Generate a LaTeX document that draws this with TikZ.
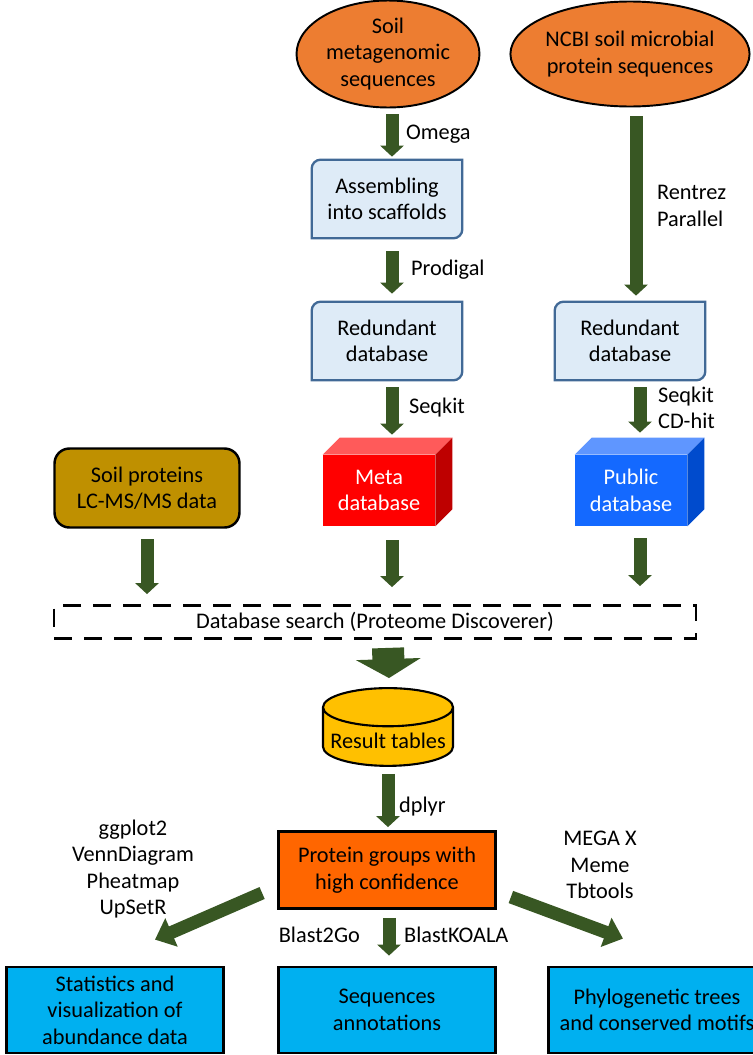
\documentclass[tikz,border=0pt]{standalone}
\usepackage{fontspec}
\setmainfont{Carlito}
\usepackage{tikz}
\usetikzlibrary{shapes.geometric, arrows.meta, positioning, calc}
\definecolor{srcorange}{RGB}{237,125,49}
\definecolor{stepfill}{RGB}{222,235,247}
\definecolor{stepline}{RGB}{65,105,150}
\definecolor{arrgreen}{RGB}{56,87,35}
\definecolor{metared}{RGB}{255,0,0}
\definecolor{metatop}{RGB}{255,90,90}
\definecolor{metaside}{RGB}{190,0,0}
\definecolor{pubblue}{RGB}{20,105,255}
\definecolor{pubtop}{RGB}{95,150,255}
\definecolor{pubside}{RGB}{0,75,205}
\definecolor{msgold}{RGB}{191,144,0}
\definecolor{resgold}{RGB}{255,192,0}
\definecolor{protorange}{RGB}{255,102,0}
\definecolor{outcyan}{RGB}{0,176,240}
\tikzset{
  txt/.style={font=\fontsize{12.7pt}{15pt}\selectfont, align=center},
  source/.style={ellipse, draw=black, fill=srcorange, line width=1.1pt,
    txt, inner sep=0pt},
  stepbox/.style={rectangle, txt, minimum width=3.0cm, minimum height=1.56cm},
  stepedge/.style={draw=stepline, fill=stepfill, line width=1.3pt},
  cubefront/.style={rectangle, txt, text=white, fill=#1,
    minimum width=2.24cm, minimum height=1.42cm},
  msbox/.style={rectangle, draw=black, fill=msgold, txt, line width=1.4pt,
    rounded corners=0.3cm, minimum width=3.7cm, minimum height=1.58cm},
  searchbox/.style={rectangle, draw=black, line width=1.6pt,
    dash pattern=on 0.36cm off 0.24cm, txt,
    minimum width=12.84cm, minimum height=0.66cm},
  restab/.style={cylinder, shape border rotate=90, aspect=0.3, draw=black,
    fill=resgold, line width=1.2pt, txt, minimum width=2.6cm, minimum height=1.54cm},
  protbox/.style={rectangle, draw=black, fill=protorange, line width=1.6pt,
    txt, minimum width=4.34cm, minimum height=1.54cm},
  outbox/.style={rectangle, draw=black, fill=outcyan, line width=1.6pt,
    txt, minimum width=4.34cm, minimum height=1.72cm},
  tool/.style={txt, inner sep=1pt},
  garrow/.style={arrgreen, line width=0.26cm,
    -{Triangle[width=0.46cm, length=0.22cm]}},
  bigarrow/.style={arrgreen, line width=0.64cm,
    -{Triangle[width=1.28cm, length=0.38cm]}},
  diagarrow/.style={arrgreen, line width=0.26cm,
    -{Triangle[width=0.6cm, length=0.36cm]}}
}
% light blue step box with two round corners
\newcommand{\stepshape}[1]{%
  \draw[stepedge] (#1.south west) -- ([shift={(0,9)}]#1.north west)
    arc[start angle=180, end angle=90, radius=0.18cm] -- (#1.north east)
    -- ([shift={(0,-9)}]#1.south east)
    arc[start angle=0, end angle=-90, radius=0.18cm] -- cycle;}
% block with a top and a side face
\newcommand{\cubeshape}[3]{%
  \fill[#2] (#1.north west) -- ([shift={(17,-17)}]#1.north west)
    -- ([shift={(17,-17)}]#1.north east) -- (#1.north east) -- cycle;
  \fill[#3] (#1.north east) -- ([shift={(17,-17)}]#1.north east)
    -- ([shift={(17,-17)}]#1.south east) -- (#1.south east) -- cycle;}

\begin{document}
\begin{tikzpicture}[x=0.02cm, y=-0.02cm]
  \useasboundingbox (0,0) rectangle (753,1055);
  \clip (0,0) rectangle (753,1055);

  \node[source, minimum width=3.66cm, minimum height=2.14cm] (meta) at (388,54)
    {Soil\\metagenomic\\sequences};
  \node[source, minimum width=4.68cm, minimum height=2.1cm] (ncbi) at (630,54)
    {NCBI soil microbial\\protein sequences};

  \node[stepbox] (asm) at (387,199) {};
  \stepshape{asm}
  \node[txt] at (asm) {Assembling\\into scaffolds};
  \node[stepbox] (red1) at (387,341) {};
  \stepshape{red1}
  \node[txt] at (red1) {Redundant\\database};
  \node[stepbox] (red2) at (630,341) {};
  \stepshape{red2}
  \node[txt] at (red2) {Redundant\\database};

  \node[cubefront=metared] (mdb) at (379,490.5) {Meta\\database};
  \cubeshape{mdb}{metatop}{metaside}
  \node[cubefront=pubblue] (pdb) at (631,490.5) {Public\\database};
  \cubeshape{pdb}{pubtop}{pubside}

  \node[msbox] (ms) at (147,488) {Soil proteins\\LC-MS/MS data};

  \node[searchbox] (search) at (375,622) {Database search (Proteome Discoverer)};

  \node[restab] (res) at (388,741) {Result tables};
  \node[protbox] (prot) at (387,870) {Protein groups with\\high confidence};

  \node[outbox] (stats) at (115,1010)
    {Statistics and\\visualization of\\abundance data};
  \node[outbox] (annot) at (387,1010) {Sequences\\annotations};
  \node[outbox] (phylo) at (657,1010) {Phylogenetic trees\\and conserved motifs};

  % connectors
  \draw[garrow] ([shift={(4,6)}]meta.south) -- ([shift={(5,-3)}]asm.north);
  \draw[garrow] ([shift={(5,13)}]asm.south) -- ([shift={(5,-8)}]red1.north);
  \draw[garrow] ([shift={(5,7)}]red1.south) -- ([shift={(13,-20)}]mdb.north);
  \draw[garrow] ([shift={(6,9)}]ncbi.south) -- ([shift={(6,-6)}]red2.north);
  \draw[garrow] ([shift={(10,7)}]red2.south) -- ([shift={(9,-22)}]pdb.north);
  \draw[garrow] ([shift={(0,10.5)}]ms.south) -- ([shift={(-228,-10)}]search.north);
  \draw[garrow] ([shift={(13,14)}]mdb.south) -- ([shift={(17,-17)}]search.north);
  \draw[garrow] ([shift={(9,12)}]pdb.south) -- ([shift={(265,-18)}]search.north);
  \draw[bigarrow] ([shift={(13,8)}]search.south) -- ([shift={(1,-9)}]res.north);
  \draw[garrow] ([shift={(0,7)}]res.south) -- ([shift={(1,-3)}]prot.north);
  \draw[diagarrow] ([shift={(-15,23)}]prot.west) -- ([shift={(40,-26)}]stats.north);
  \draw[diagarrow] ([shift={(14,27)}]prot.east) -- ([shift={(-34,-27)}]phylo.north);
  \draw[garrow] ([shift={(2,8)}]prot.south) -- ([shift={(2,-10)}]annot.north);

  % tool labels
  \node[tool, anchor=west] (omega) at (404,134) {Omega};
  \node[tool, anchor=west] (prodigal) at (409,270) {Prodigal};
  \node[tool, anchor=west] (seqkit) at (407,408) {Seqkit};
  \node[tool, anchor=west, align=left] (rentrez) at (655,206) {Rentrez\\Parallel};
  \node[tool, anchor=west, align=left] (cdhit) at (656,408) {Seqkit\\CD-hit};
  \node[tool, anchor=west] (dplyr) at (397,807) {dplyr};
  \node[tool] (rtools) at (133,869) {ggplot2\\VennDiagram\\Pheatmap\\UpSetR};
  \node[tool] (phytools) at (600,865) {MEGA X\\Meme\\Tbtools};
  \node[tool, anchor=east] (b2go) at (362,935) {Blast2Go};
  \node[tool, anchor=west] (koala) at (402,935) {BlastKOALA};
\end{tikzpicture}
\end{document}
